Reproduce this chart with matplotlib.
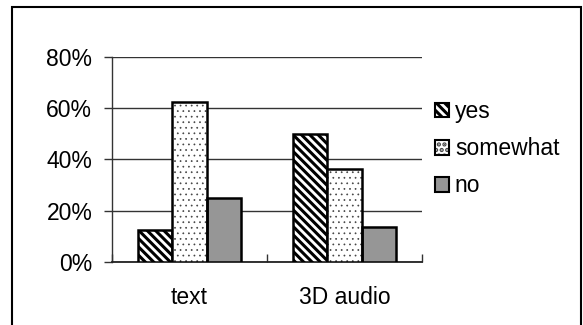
import matplotlib
matplotlib.use("Agg")
import matplotlib.pyplot as plt
from matplotlib.patches import Patch, Rectangle
from matplotlib.ticker import FuncFormatter, FixedLocator
import numpy as np

categories = ["text", "3D audio"]
series_names = ["yes", "somewhat", "no"]
yes_vals = [12.5, 50.0]
somewhat_vals = [62.5, 36.4]
no_vals = [25.0, 13.6]
y_ticks = [0, 20, 40, 60, 80]

plt.rcParams['font.family'] = ['Liberation Sans', 'DejaVu Sans']
plt.rcParams['hatch.linewidth'] = 2.2
FS = 16.5

fig = plt.figure(figsize=(5.83, 3.25), dpi=100)
ax = fig.add_axes([111.7/583, 1-262/325, (422-111.7)/583, (262-56.7)/325])

x = np.arange(len(categories))
w = 2/9
edge_lw = 1.8


def thin_hatch(patches, lw=0.5):
    for p in patches:
        if hasattr(p, 'set_hatch_linewidth'):
            p.set_hatch_linewidth(lw)
        else:
            p._hatch_linewidth = lw

# yes
ax.bar(x - w, yes_vals, w, facecolor='white', edgecolor='black', hatch='\\\\\\\\',
       linewidth=edge_lw, zorder=3)
# somewhat: dotted hatch (gray) then black outline
with plt.rc_context({'hatch.linewidth': 0.5}):
    sw = ax.bar(x, somewhat_vals, w, facecolor='white', edgecolor='#444444', hatch='...',
                linewidth=0, zorder=3)
thin_hatch(sw)
ax.bar(x, somewhat_vals, w, fill=False, edgecolor='black', linewidth=edge_lw, zorder=4)
# no
ax.bar(x + w, no_vals, w, facecolor='#969696', edgecolor='black',
       linewidth=edge_lw, zorder=3)

ax.set_xlim(-0.5, 1.5)
ax.set_ylim(0, 80)
ax.set_yticks(y_ticks)
ax.yaxis.set_major_formatter(FuncFormatter(lambda v, p: f"{int(v)}%"))
ax.grid(axis='y', color='#333333', linewidth=1.0, zorder=0)
ax.set_axisbelow(True)

for s in ['top', 'right']:
    ax.spines[s].set_visible(False)
ax.spines['left'].set_color('#333333')
ax.spines['left'].set_linewidth(1.0)
ax.spines['bottom'].set_color('#222222')
ax.spines['bottom'].set_linewidth(1.3)

ax.set_xticks(x)
ax.set_xticklabels(categories, fontsize=FS)
ax.tick_params(axis='x', which='major', length=0, pad=17)
ax.xaxis.set_minor_locator(FixedLocator([-0.5, 0.5, 1.5]))
ax.tick_params(axis='x', which='minor', direction='in', length=6, width=1, color='#333333')
ax.tick_params(axis='y', direction='out', length=6, width=1, color='#333333',
               labelsize=FS, pad=8)

h_yes = Patch(facecolor='white', edgecolor='black', hatch='\\\\\\\\', linewidth=1.5)
with plt.rc_context({'hatch.linewidth': 0.5}):
    h_sw_fill = Patch(facecolor='white', edgecolor='#444444', hatch='...', linewidth=0)
thin_hatch([h_sw_fill])
h_sw = (h_sw_fill, Patch(fill=False, edgecolor='black', linewidth=1.5))
h_no = Patch(facecolor='#969696', edgecolor='black', linewidth=1.5)
leg = fig.legend([h_yes, h_sw, h_no], series_names, loc='upper left',
                 bbox_to_anchor=(435/583, 1-100/325), frameon=False, fontsize=FS,
                 handlelength=0.62, handleheight=0.62, handletextpad=0.25,
                 labelspacing=0.62, borderpad=0, borderaxespad=0)

fig.add_artist(Rectangle((11.7/583, -0.05), (581-11.7)/583, 1.05 - 7/325,
                         transform=fig.transFigure, fill=False,
                         edgecolor='black', linewidth=1.5))

fig.savefig("out.png", dpi=100)
